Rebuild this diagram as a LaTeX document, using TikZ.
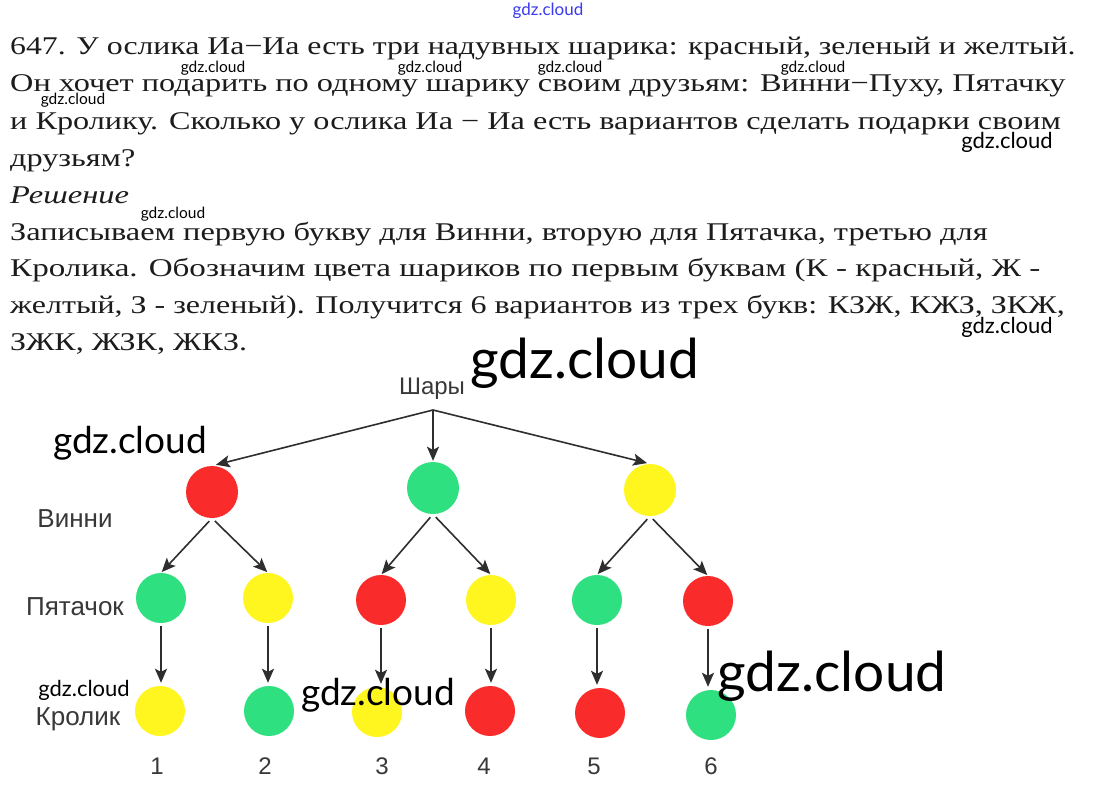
\documentclass[tikz,border=0pt]{standalone}
\usepackage{fontspec}
\setmainfont{Liberation Serif}
\newfontfamily\labfont{Liberation Sans}
\newfontfamily\wmfont{Lato}
\usetikzlibrary{arrows.meta,calc}
\definecolor{cred}{HTML}{FA2B2B}
\definecolor{cgreen}{HTML}{2EE07F}
\definecolor{cyellow}{HTML}{FFF51F}
\definecolor{txt}{HTML}{1C1C1C}
\definecolor{labc}{HTML}{383838}
\definecolor{arrc}{HTML}{2E2E2E}
\definecolor{wmblue}{HTML}{3A3AF0}
\newcommand{\sx}[2]{\scalebox{#1}[1]{#2}}
\begin{document}
\begin{tikzpicture}[x=1pt,y=-1pt,
  body/.style={anchor=base west,inner sep=0,text=txt,font=\fontsize{25.5}{30}\selectfont},
  ballA/.style={circle,inner sep=0,minimum size=52pt},
  ballB/.style={circle,inner sep=0,minimum size=50pt},
  rball/.style={fill=cred},
  gball/.style={fill=cgreen},
  yball/.style={fill=cyellow},
  conn/.style={draw=arrc,line width=1.6pt,-{Stealth[length=14pt,width=12pt,inset=3pt]}},
  lev/.style={text=labc,inner sep=0,font=\labfont\fontsize{26}{26}\selectfont},
  num/.style={text=labc,inner sep=0,font=\labfont\fontsize{24}{24}\selectfont},
  wm/.style={inner sep=0,text=black,font=\wmfont\fontsize{#1}{#1}\selectfont}
]
\useasboundingbox[fill=white] (0,0) rectangle (1094,789);

% ---- text ----
\node[body] (t1) at (10,55) {\sx{1.246}{647. У ослика Иа−Иа есть три надувных шарика: красный, зеленый и желтый.}};
\node[body] (t2) at (10,92) {\sx{1.266}{Он хочет подарить по одному шарику своим друзьям: Винни−Пуху, Пятачку}};
\node[body] (t3) at (10,129) {\sx{1.264}{и Кролику. Сколько у ослика Иа − Иа есть вариантов сделать подарки своим}};
\node[body] (t4) at (10,166) {\sx{1.265}{друзьям?}};
\node[body,font=\fontsize{25.5}{30}\selectfont\itshape] (t5) at (10,203) {\sx{1.275}{Решение}};
\node[body] (t6) at (10,240) {\sx{1.269}{Записываем первую букву для Винни, вторую для Пятачка, третью для}};
\node[body] (t7) at (10,276) {\sx{1.298}{Кролика. Обозначим цвета шариков по первым буквам (К - красный, Ж -}};
\node[body] (t8) at (10,313) {\sx{1.255}{желтый, З - зеленый). Получится 6 вариантов из трех букв: КЗЖ, КЖЗ, ЗКЖ,}};
\node[body] (t9) at (10,350) {\sx{1.255}{ЗЖК, ЖЗК, ЖКЗ.}};

% ---- tree ----
\node[lev,font=\labfont\fontsize{24}{24}\selectfont] (root) at (432,389) {Шары};
\coordinate (apex) at (433,410);

\node[ballA,rball] (a1) at (212,492) {};
\node[ballA,gball] (a2) at (433,488) {};
\node[ballA,yball] (a3) at (650,490) {};

\node[ballB,gball] (b1) at (161,598) {};
\node[ballB,yball] (b2) at (268,598) {};
\node[ballB,rball] (b3) at (381,600) {};
\node[ballB,yball] (b4) at (491,600) {};
\node[ballB,gball] (b5) at (597,600) {};
\node[ballB,rball] (b6) at (708,601) {};

\node[ballB,yball] (c1) at (160,711) {};
\node[ballB,gball] (c2) at (269,711) {};
\node[ballB,yball] (c3) at (377,712) {};
\node[ballB,rball] (c4) at (490,711) {};
\node[ballB,rball] (c5) at (600,713) {};
\node[ballB,gball] (c6) at (711,715) {};

\draw[conn,shorten >=4pt] (apex) -- (a1.north);
\draw[conn,shorten >=1pt] (apex) -- (a2.north);
\draw[conn,shorten >=3pt] (apex) -- (a3.north);

\foreach \p/\c in {a1/b1,a1/b2,a2/b3,a2/b4,a3/b5,a3/b6}
  \draw[conn,shorten <=4pt,shorten >=1pt] (\p.south) -- (\c.north);
\foreach \p/\c in {b1/c1,b2/c2,b3/c3,b4/c4,b5/c5,b6/c6}
  \draw[conn,shorten <=3pt,shorten >=3pt] (\p.south) -- (\p.south |- \c.north);

\node[lev] (lw) at (75,519) {Винни};
\node[lev] (lp) at (75,607) {Пятачок};
\node[lev] (lk) at (78,719) {Кролик};

\node[num] (n1) at (157,766) {1};
\node[num] (n2) at (265,766) {2};
\node[num] (n3) at (382,766) {3};
\node[num] (n4) at (484,766) {4};
\node[num] (n5) at (594,766) {5};
\node[num] (n6) at (711,766) {6};

% ---- watermarks ----
\node[wm=17,text=wmblue] (w0) at (548,11) {gdz.cloud};
\node[wm=15.5] (w1) at (213,68) {gdz.cloud};
\node[wm=15.5] (w2) at (430,68) {gdz.cloud};
\node[wm=15.5] (w3) at (570,68) {gdz.cloud};
\node[wm=15.5] (w4) at (813,68) {gdz.cloud};
\node[wm=15.5] (w5) at (73,100) {gdz.cloud};
\node[wm=15.5] (w6) at (173,214) {gdz.cloud};
\node[wm=22] (w7) at (1007,142) {gdz.cloud};
\node[wm=22] (w8) at (1007,327) {gdz.cloud};
\node[wm=22] (w9) at (84,690) {gdz.cloud};
\node[wm=37] (w10) at (130,443) {gdz.cloud};
\node[wm=37] (w11) at (378,695) {gdz.cloud};
\node[wm=55] (w12) at (585,363) {gdz.cloud};
\node[wm=55] (w13) at (832,676) {gdz.cloud};
\end{tikzpicture}
\end{document}
